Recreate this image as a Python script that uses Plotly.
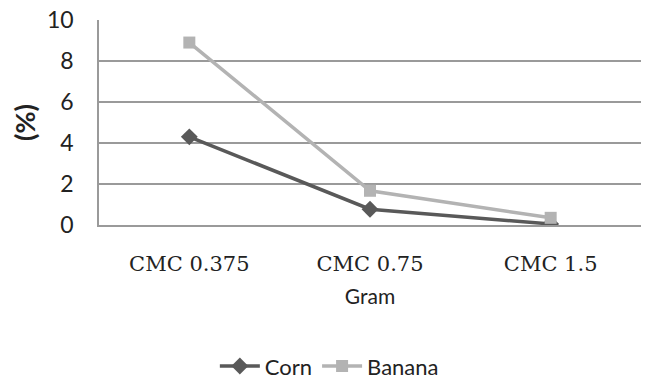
import plotly.graph_objects as go

categories = ["CMC 0.375", "CMC 0.75", "CMC 1.5"]
corn = [4.3, 0.77, 0.05]
banana = [8.9, 1.67, 0.35]
y_ticks = [0, 2, 4, 6, 8, 10]

fig = go.Figure()
fig.add_trace(go.Scatter(
    x=categories, y=corn, name="Corn", mode="lines+markers",
    line=dict(color="#595959", width=3.5),
    marker=dict(symbol="diamond", size=13, color="#595959"),
))
fig.add_trace(go.Scatter(
    x=categories, y=banana, name="Banana", mode="lines+markers",
    line=dict(color="#b3b3b3", width=3.5),
    marker=dict(symbol="square", size=12, color="#b3b3b3"),
))

fig.update_layout(
    width=650, height=381,
    margin=dict(l=99, r=9, t=20, b=156),
    paper_bgcolor="white", plot_bgcolor="white",
    font=dict(family="Lato", size=21, color="#222"),
    showlegend=True,
    legend=dict(orientation="h", x=0.425, xanchor="center",
                yref="container", y=0.039, yanchor="middle",
                itemwidth=40,
                font=dict(family="Lato", size=22, color="#222")),
    xaxis=dict(
        type="category", range=[-0.5, 2.5], automargin=False,
        showgrid=False, showline=True, linecolor="#9a9a9a", linewidth=1.5,
        ticks="", ticklabelstandoff=19,
        tickfont=dict(family="DejaVu Serif", size=21, color="#222"),
        title=dict(text="Gram", font=dict(family="Lato", size=21, color="#222"), standoff=14),
    ),
    yaxis=dict(
        range=[0, 10], tickvals=y_ticks, automargin=False,
        showgrid=True, gridcolor="#9a9a9a", gridwidth=1.5,
        showline=True, linecolor="#9a9a9a", linewidth=1.5,
        zeroline=False, ticks="", ticklabelstandoff=19,
        tickfont=dict(family="Lato", size=23, color="#222"),
        title=dict(text="<b>(%)</b>", font=dict(family="Lato", size=27, color="#222"), standoff=4),
    ),
)

fig.write_html("out.html")
